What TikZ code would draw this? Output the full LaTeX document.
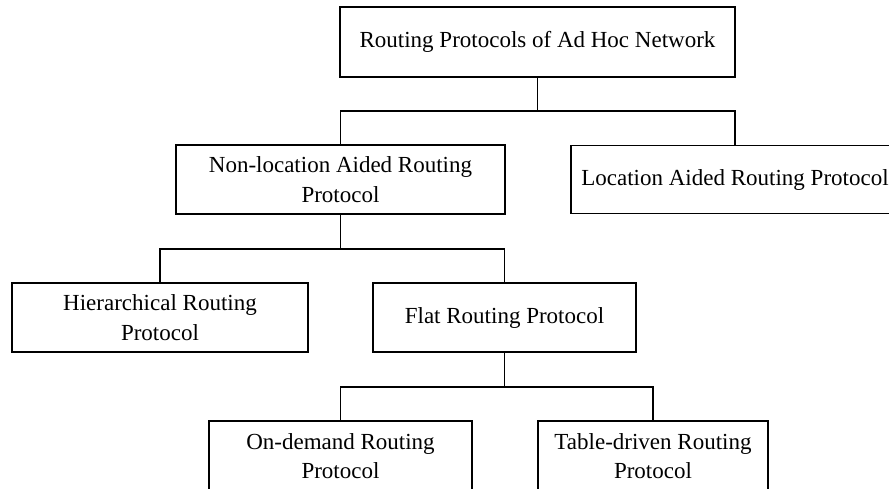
\documentclass[tikz,border=0pt]{standalone}
\usepackage{fontspec}
\setmainfont{Liberation Serif}
\begin{document}
\begin{tikzpicture}[x=1pt,y=-1pt,
  box/.style={draw, line width=1.5pt, inner sep=0pt, align=center,
    font=\fontsize{23}{29.5}\selectfont},
  conn/.style={line width=1.5pt}]
\useasboundingbox (0,0) rectangle (889,488);
\clip (0,0) rectangle (889,488);
\node[box, minimum width=395pt, minimum height=70pt] (top) at (537.5,42) {Routing Protocols of Ad Hoc Network};
\node[box, minimum width=329pt, minimum height=69pt] (nonloc) at (340.5,179.5) {Non-location Aided Routing\\Protocol};
\node[box, minimum width=328pt, minimum height=68pt] (loc) at (735,179.5) {Location Aided Routing Protocol};
\node[box, minimum width=296pt, minimum height=69pt] (hier) at (160,317.5) {Hierarchical Routing\\Protocol};
\node[box, minimum width=263pt, minimum height=69pt] (flat) at (504.5,317.5) {Flat Routing Protocol};
\node[box, minimum width=263pt, minimum height=70pt] (ond) at (340.5,456) {On-demand Routing\\Protocol};
\node[box, minimum width=230pt, minimum height=70pt] (tab) at (653,456) {Table-driven Routing\\Protocol};
\draw[conn] (top.south) -- ++(0,33) coordinate (j1) -| (nonloc.north);
\draw[conn] (j1) -| (loc.north);
\draw[conn] (nonloc.south) -- ++(0,34) coordinate (j2) -| (hier.north);
\draw[conn] (j2) -| (flat.north);
\draw[conn] (flat.south) -- ++(0,34) coordinate (j3) -| (ond.north);
\draw[conn] (j3) -| (tab.north);
\end{tikzpicture}
\end{document}
